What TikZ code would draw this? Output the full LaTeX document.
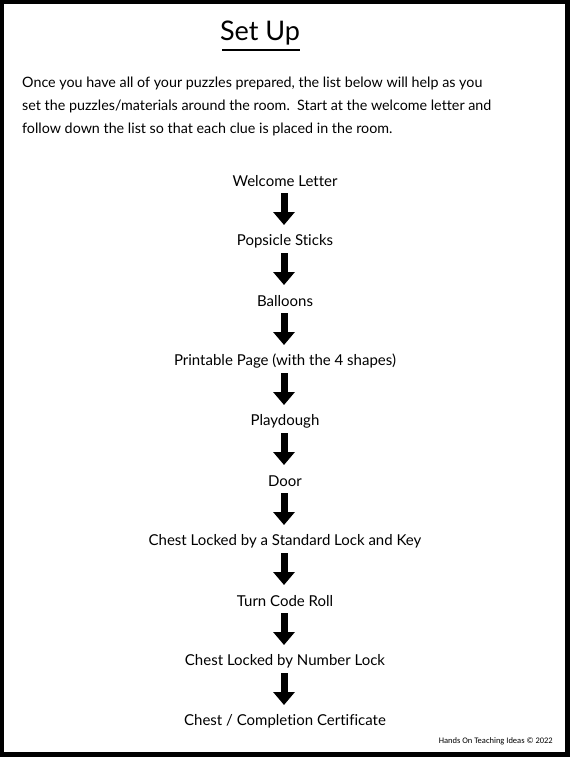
\documentclass[tikz,border=0pt]{standalone}
\usepackage{fontspec}
\setmainfont{Lato}[Ligatures=NoCommon]
\newfontfamily\footfont{Carlito}
\usetikzlibrary{arrows.meta}
\tikzset{
  item/.style={font=\fontsize{15}{18}\selectfont, inner sep=0pt, anchor=center},
  para/.style={font=\fontsize{14.3}{17}\selectfont, inner sep=0pt, anchor=base west},
  bigarrow/.style={line width=7pt, -{Triangle[width=21pt,length=13pt]}, shorten <=12pt, shorten >=16pt},
}
\begin{document}
\begin{tikzpicture}[x=1pt,y=-1pt]
\fill[black] (0,0) rectangle (570,757);
\fill[white] (4,4) rectangle (565,752);
\useasboundingbox (0,0) rectangle (570,757);
% title
\node[inner sep=0pt, font=\fontsize{27}{30}\selectfont] (title) at (260,33) {Set Up};
\draw[line width=1.6pt] (222,50) -- (300,50);
% paragraph
\node[para] (p1) at (22,88) {Once you have all of your puzzles prepared, the list below will help as you};
\node[para] (p2) at (22,111) {set the puzzles/materials around the room.\ \ Start at the welcome letter and};
\node[para] (p3) at (22,133) {follow down the list so that each clue is placed in the room.};
% items
\node[item] (n1) at (285,181) {Welcome Letter};
\node[item] (n2) at (285,241) {Popsicle Sticks};
\node[item] (n3) at (285,301) {Balloons};
\node[item] (n4) at (285,361) {Printable Page (with the 4 shapes)};
\node[item] (n5) at (285,421) {Playdough};
\node[item] (n6) at (285,481) {Door};
\node[item] (n7) at (285,541) {Chest Locked by a Standard Lock and Key};
\node[item] (n8) at (285,601) {Turn Code Roll};
\node[item] (n9) at (285,661) {Chest Locked by Number Lock};
\node[item] (n10) at (285,721) {Chest / Completion Certificate};
\foreach \a/\b in {n1/n2,n2/n3,n3/n4,n4/n5,n5/n6,n6/n7,n7/n8,n8/n9,n9/n10}
  \draw[bigarrow] ([xshift=-1pt]\a.center) -- ([xshift=-1pt]\b.center);
% footer
\node[inner sep=0pt, anchor=east, font=\footfont\fontsize{8.5}{10}\selectfont] (foot) at (553,741) {Hands On Teaching Ideas \copyright{} 2022};
\end{tikzpicture}
\end{document}
